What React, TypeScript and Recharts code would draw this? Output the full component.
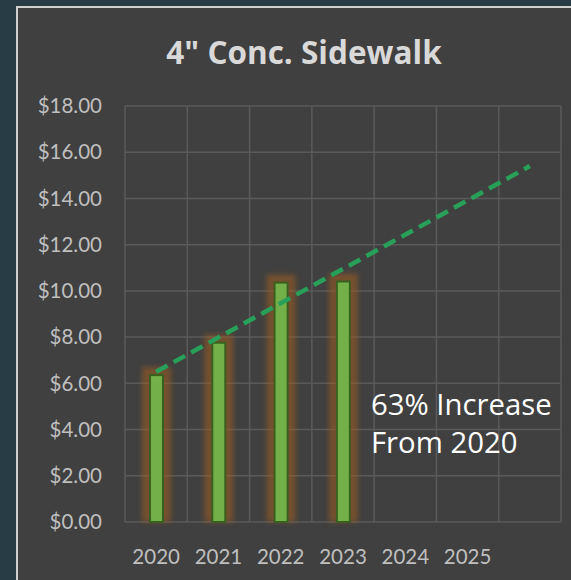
import React from 'react';
import { ComposedChart, Bar, Line, XAxis, YAxis, CartesianGrid } from 'recharts';

const years = ['2020', '2021', '2022', '2023', '2024', '2025', ''];
const cost = [6.4, 7.8, 10.4, 10.45, null, null, null];
const trend = [6.5, null, null, null, null, null, 15.4];
const yTicks = [0, 2, 4, 6, 8, 10, 12, 14, 16, 18];

const data = years.map((year, i) => ({ year, cost: cost[i], trend: trend[i] }));

const GlowBar = (props: any) => {
  const { x, y, width, height } = props;
  if (!height || height <= 0) return null;
  return (
    <g>
      <rect x={x - 7} y={y - 7} width={width + 14} height={height + 7} fill="#a8601f" opacity={0.5} filter="url(#barGlow)" />
      <rect x={x + 1} y={y + 1} width={width - 2} height={height - 1} fill="#73b04a" stroke="#38601f" strokeWidth={2} />
    </g>
  );
};

export default function App() {
  return (
    <div style={{ position: 'absolute', left: 0, top: 0, width: 571, height: 580, overflow: 'hidden', background: '#283c45' }}>
      <svg width={0} height={0} style={{ position: 'absolute' }}>
        <defs>
          <filter id="barGlow" x="-60%" y="-10%" width="220%" height="120%">
            <feGaussianBlur stdDeviation="2.5" />
          </filter>
        </defs>
      </svg>
      <div style={{ position: 'absolute', left: 16, top: 6, width: 600, height: 600, background: '#404040', borderLeft: '2px solid #cfcfcf', borderTop: '2px solid #cfcfcf' }} />
      <div style={{ position: 'absolute', left: 0, top: 0 }}>
        <ComposedChart width={571} height={580} data={data} margin={{ top: 106, right: 10, bottom: 0, left: 0 }}>
          <CartesianGrid
            stroke="#5a5a5a"
            strokeWidth={1.5}
            verticalCoordinatesGenerator={({ offset }: any) =>
              years.concat(['']).map((_, i) => offset.left + (i * offset.width) / years.length)
            }
          />
          <XAxis
            dataKey="year"
            height={58}
            axisLine={false}
            tickLine={false}
            tickSize={0}
            tickMargin={27}
            interval={0}
            tick={{ fill: '#bfbfbf', fontSize: 20.5, fontFamily: 'Lato' }}
          />
          <YAxis
            width={125}
            domain={[0, 18]}
            ticks={yTicks}
            axisLine={false}
            tickLine={false}
            tickSize={0}
            tickMargin={23}
            tickFormatter={(v: number) => `$${v.toFixed(2)}`}
            tick={{ fill: '#bfbfbf', fontSize: 20.5, fontFamily: 'Lato' }}
          />
          <Bar dataKey="cost" barSize={15} shape={<GlowBar />} isAnimationActive={false} />
          <Line
            dataKey="trend"
            connectNulls
            stroke="#28a05a"
            strokeWidth={4.5}
            strokeDasharray="13 7"
            dot={false}
            activeDot={false}
            isAnimationActive={false}
          />
        </ComposedChart>
      </div>
      <svg width={571} height={580} style={{ position: 'absolute', left: 0, top: 0, pointerEvents: 'none' }}>
        <text x={304} y={64} textAnchor="middle" fill="#d9d9d9" fontFamily="Open Sans" fontWeight="bold" fontSize={31.5}>
          4" Conc. Sidewalk
        </text>
        <text x={371} y={415} fill="#ffffff" fontFamily="Open Sans" fontSize={29.3}>
          63% Increase
        </text>
        <text x={371} y={453} fill="#ffffff" fontFamily="Open Sans" fontSize={29.3}>
          From 2020
        </text>
      </svg>
    </div>
  );
}
